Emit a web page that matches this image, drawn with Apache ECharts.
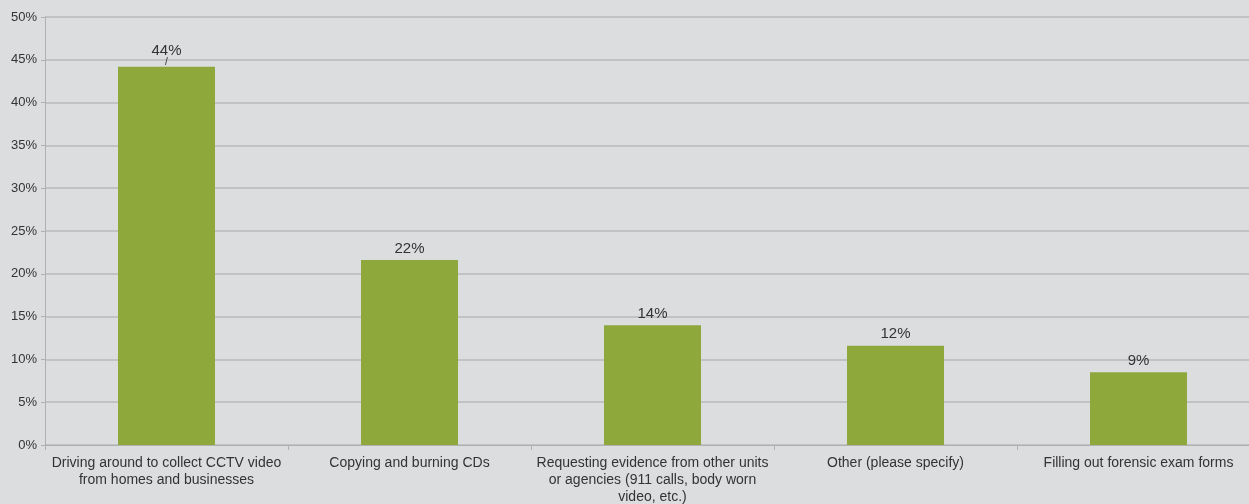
<!DOCTYPE html>
<html><head><meta charset="utf-8">
<script src="https://cdn.jsdelivr.net/npm/echarts@6/dist/echarts.min.js"></script>
<style>html,body{margin:0;padding:0;background:#dcdddf;}#c{width:1249px;height:504px;}</style>
</head><body><div id="c"></div>
<script>
const categories = [
  'Driving around to collect CCTV video\nfrom homes and businesses',
  'Copying and burning CDs',
  'Requesting evidence from other units\nor agencies (911 calls, body worn\nvideo, etc.)',
  'Other (please specify)',
  'Filling out forensic exam forms'
];
const values = [44.2, 21.6, 14.0, 11.6, 8.5];
const yTicks = [0, 5, 10, 15, 20, 25, 30, 35, 40, 45, 50];

const font = 'Liberation Sans, Arial, sans-serif';
const seriesData = values.map((v, i) => i === 0
  ? { value: v, label: { distance: 0, formatter: p => '{a|' + Math.round(p.value) + '%}\n{b|/}' } }
  : { value: v });

const chart = echarts.init(document.getElementById('c'));
chart.setOption({
  backgroundColor: '#dcdddf',
  animation: false,
  grid: { left: 45, right: -11, top: 17, bottom: 59, containLabel: false, outerBoundsMode: 'none' },
  xAxis: {
    type: 'category',
    data: categories,
    axisLine: { show: true, lineStyle: { color: '#b0b0b0', width: 1 } },
    axisTick: { show: true, length: 5, lineStyle: { color: '#b0b0b0' } },
    axisLabel: { color: '#333', fontFamily: font, fontSize: 14, lineHeight: 17, margin: 10, interval: 0 }
  },
  yAxis: {
    type: 'value',
    min: yTicks[0], max: yTicks[yTicks.length - 1], interval: 5,
    axisLine: { show: true, lineStyle: { color: '#b0b0b0', width: 1 } },
    axisTick: { show: true, length: 4, lineStyle: { color: '#b0b0b0' } },
    splitLine: { show: true, lineStyle: { color: '#b8b8b8', width: 1.5 } },
    axisLabel: { color: '#333', fontFamily: font, fontSize: 13, margin: 8, formatter: v => v + '%' }
  },
  series: [{
    type: 'bar',
    data: seriesData,
    barWidth: 97,
    itemStyle: { color: '#8fa83c' },
    label: {
      show: true, position: 'top', distance: 4,
      color: '#333', fontFamily: font, fontSize: 15,
      formatter: p => Math.round(p.value) + '%',
      rich: {
        a: { fontFamily: font, fontSize: 15, color: '#333', lineHeight: 14 },
        b: { fontFamily: font, fontSize: 10, color: '#333', lineHeight: 9 }
      }
    }
  }]
});
</script></body></html>
